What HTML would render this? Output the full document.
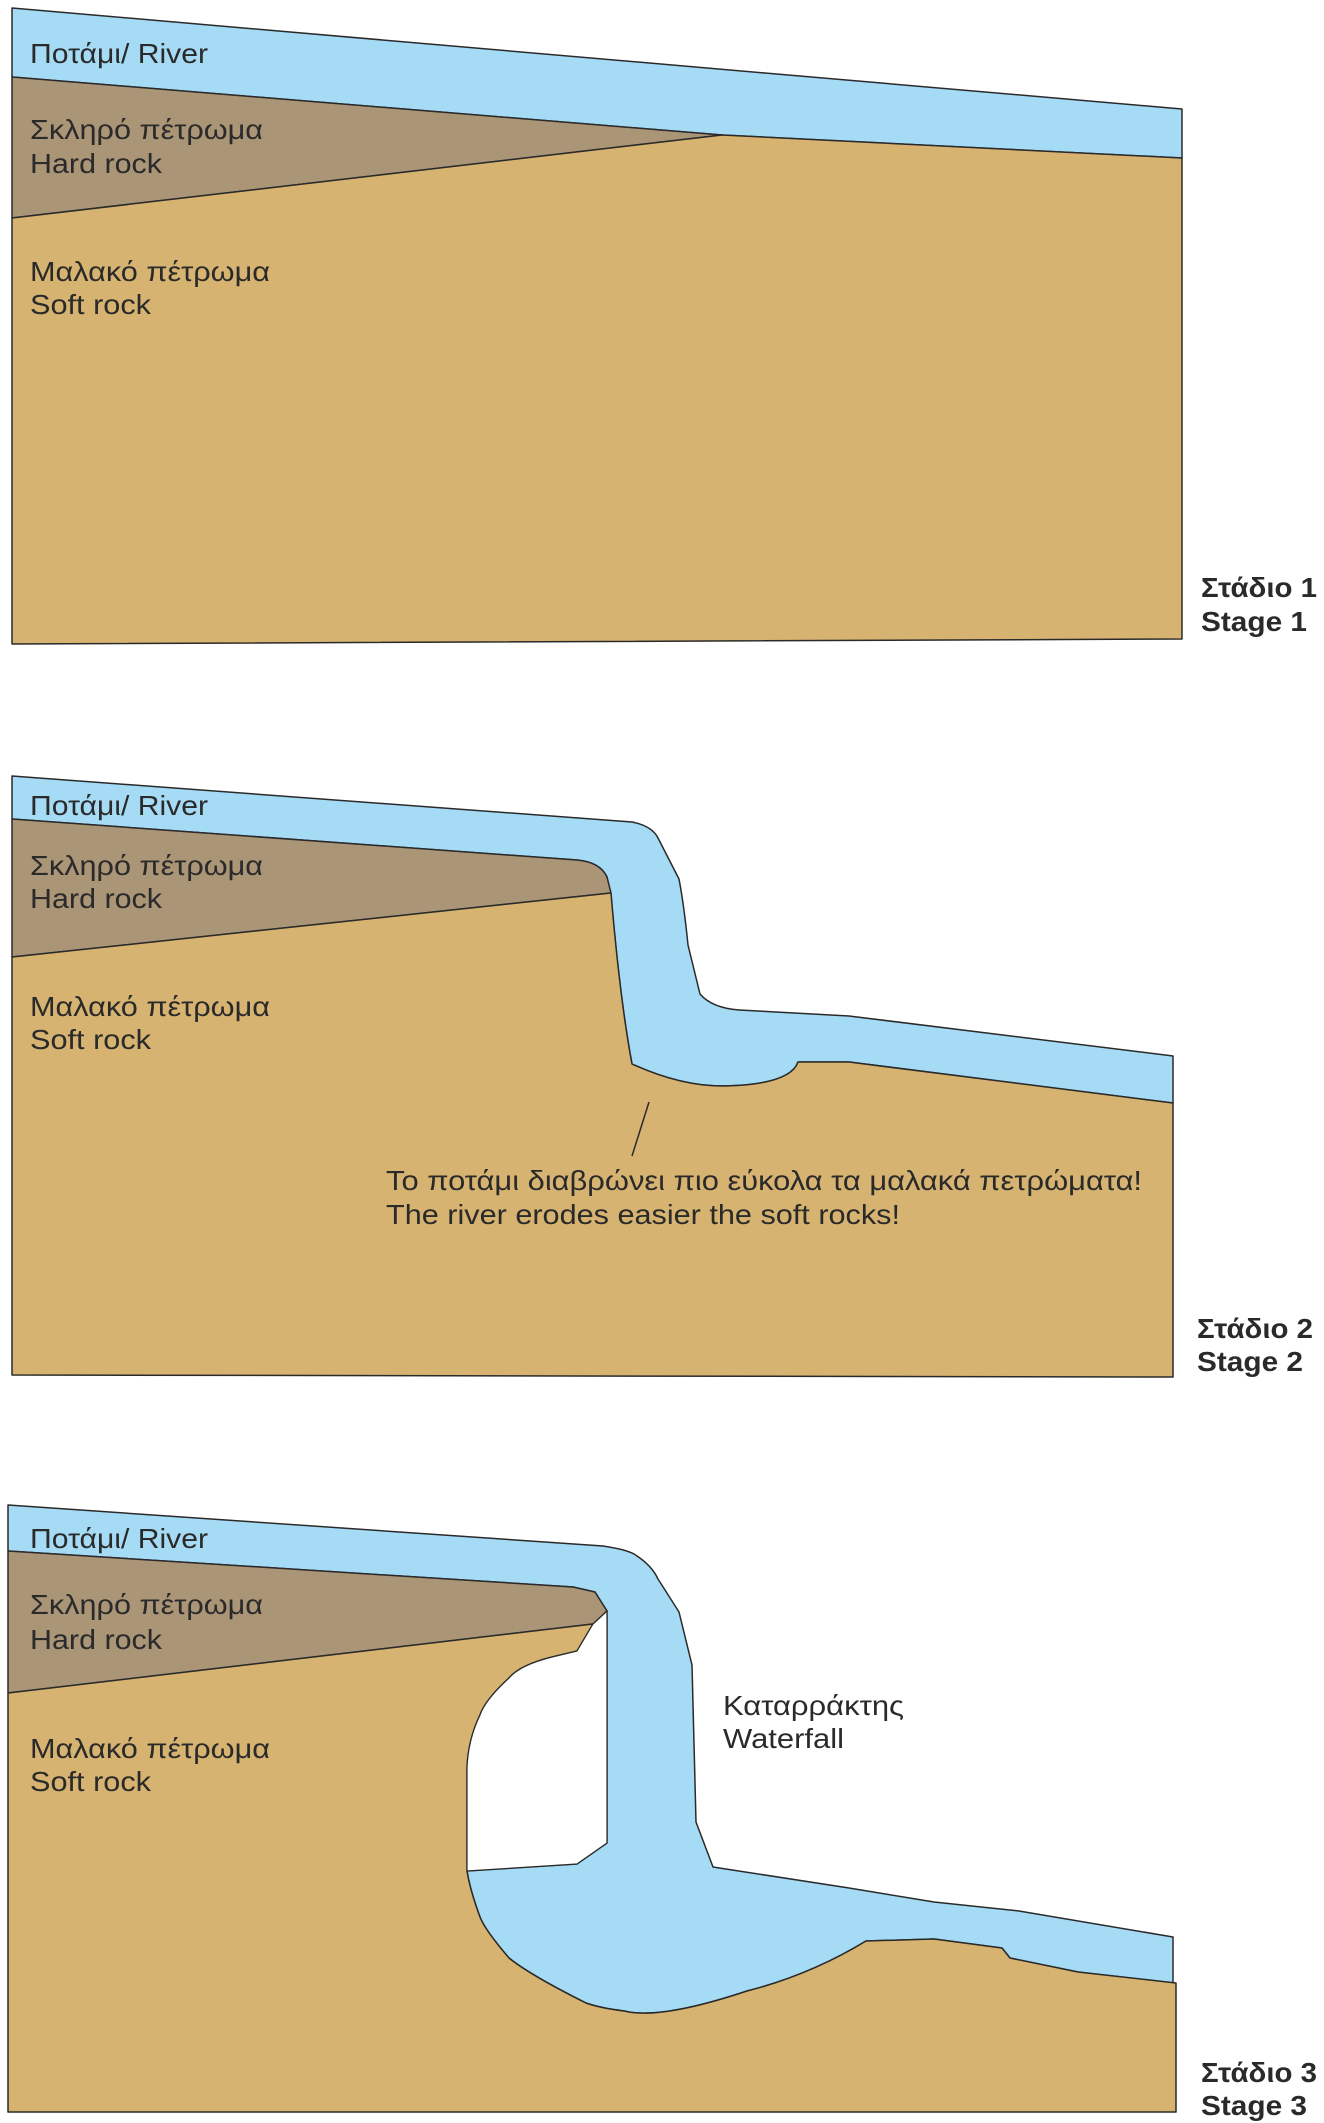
<!DOCTYPE html>
<html><head><meta charset="utf-8"><style>html,body{margin:0;padding:0;background:#fff}svg{display:block}</style></head>
<body>
<svg width="1324" height="2123" viewBox="0 0 1324 2123" xmlns="http://www.w3.org/2000/svg" font-family="'Liberation Sans', 'DejaVu Sans', sans-serif">
<g stroke="#2a2a2a" stroke-width="1.5" stroke-linejoin="round">
<!-- Stage 1 -->
<polygon points="12,8 1182,109 1182,158 722,135 12,77" fill="#a6dbf5"/>
<polygon points="12,77 722,135 12,218" fill="#ab9577"/>
<polygon points="12,218 722,135 1182,158 1182,639 12,644" fill="#d6b370"/>

<!-- Stage 2 -->
<path d="M12,776 L632,822 Q652,826 658,838 L679,879 Q684,905 688,945 L700,994 Q712,1008 739,1010 L849,1016 L1173,1056 L1173,1103 L849,1062 L798,1062 Q790,1085 722,1086 Q680,1086 632,1064 Q620,1000 611,895 L607,877 Q600,862 577,860 L12,819 Z" fill="#a6dbf5"/>
<path d="M12,819 L577,860 Q600,862 607,877 L611,893 L12,957 Z" fill="#ab9577"/>
<path d="M12,957 L611,893 Q620,1000 632,1064 Q680,1086 722,1086 Q790,1085 798,1062 L849,1062 L1173,1103 L1173,1377 L12,1375 Z" fill="#d6b370"/>
<line x1="649" y1="1102" x2="632" y2="1156"/>

<!-- Stage 3 -->
<path d="M8,1505 L603,1546 Q630,1550 637,1556 Q652,1566 658,1579 L679,1612 L692,1665 L696,1822 L713,1867 L849,1888 L934,1902 L1019,1911 L1173,1937 L1173,1983 L1078,1972 L1010,1958 L1002,1948 L934,1939 L866,1941 Q810,1975 747,1991 Q660,2020 624,2011 Q600,2008 586,2003 Q530,1975 509,1958 Q485,1930 480,1917 Q470,1890 467,1871 L577,1864 L607,1843 L607,1611 L595,1592 L573,1587 L8,1551 Z" fill="#a6dbf5"/>
<path d="M8,1551 L573,1587 L595,1592 L607,1611 L593,1624 L8,1693 Z" fill="#ab9577"/>
<path d="M8,1693 L593,1624 L577,1651 L552,1657 Q520,1665 509,1678 Q485,1700 480,1715 Q468,1740 467,1768 L467,1871 Q470,1890 480,1917 Q485,1930 509,1958 Q530,1975 586,2003 Q600,2008 624,2011 Q660,2020 747,1991 Q810,1975 866,1941 L934,1939 L1002,1948 L1010,1958 L1078,1972 L1176,1983 L1176,2112 L8,2112 Z" fill="#d6b370"/>
<path d="M593,1624 L607,1611 L607,1843 L577,1864 L467,1871 L467,1768 Q468,1740 480,1715 Q485,1700 509,1678 Q520,1665 552,1657 L577,1651 Z" fill="#ffffff" stroke-width="1.2"/>
</g>

<g fill="#2a2a2a" font-size="28">
<!-- Stage 1 labels -->
<text x="30" y="63" textLength="178" lengthAdjust="spacingAndGlyphs">Ποτάμι/ River</text>
<text x="30" y="139" textLength="233" lengthAdjust="spacingAndGlyphs">Σκληρό πέτρωμα</text>
<text x="30" y="173" textLength="132" lengthAdjust="spacingAndGlyphs">Hard rock</text>
<text x="30" y="281" textLength="240" lengthAdjust="spacingAndGlyphs">Μαλακό πέτρωμα</text>
<text x="30" y="314" textLength="121" lengthAdjust="spacingAndGlyphs">Soft rock</text>
<text x="1201" y="597" font-weight="bold" textLength="116" lengthAdjust="spacingAndGlyphs">Στάδιο 1</text>
<text x="1201" y="631" font-weight="bold" textLength="106" lengthAdjust="spacingAndGlyphs">Stage 1</text>

<!-- Stage 2 labels -->
<text x="30" y="815" textLength="178" lengthAdjust="spacingAndGlyphs">Ποτάμι/ River</text>
<text x="30" y="875" textLength="233" lengthAdjust="spacingAndGlyphs">Σκληρό πέτρωμα</text>
<text x="30" y="908" textLength="132" lengthAdjust="spacingAndGlyphs">Hard rock</text>
<text x="30" y="1016" textLength="240" lengthAdjust="spacingAndGlyphs">Μαλακό πέτρωμα</text>
<text x="30" y="1049" textLength="121" lengthAdjust="spacingAndGlyphs">Soft rock</text>
<text x="386" y="1190" textLength="756" lengthAdjust="spacingAndGlyphs">Το ποτάμι διαβρώνει πιο εύκολα τα μαλακά πετρώματα!</text>
<text x="386" y="1224" textLength="514" lengthAdjust="spacingAndGlyphs">The river erodes easier the soft rocks!</text>
<text x="1197" y="1338" font-weight="bold" textLength="116" lengthAdjust="spacingAndGlyphs">Στάδιο 2</text>
<text x="1197" y="1371" font-weight="bold" textLength="106" lengthAdjust="spacingAndGlyphs">Stage 2</text>

<!-- Stage 3 labels -->
<text x="30" y="1548" textLength="178" lengthAdjust="spacingAndGlyphs">Ποτάμι/ River</text>
<text x="30" y="1614" textLength="233" lengthAdjust="spacingAndGlyphs">Σκληρό πέτρωμα</text>
<text x="30" y="1649" textLength="132" lengthAdjust="spacingAndGlyphs">Hard rock</text>
<text x="30" y="1758" textLength="240" lengthAdjust="spacingAndGlyphs">Μαλακό πέτρωμα</text>
<text x="30" y="1791" textLength="121" lengthAdjust="spacingAndGlyphs">Soft rock</text>
<text x="723" y="1715" textLength="181" lengthAdjust="spacingAndGlyphs">Καταρράκτης</text>
<text x="723" y="1748" textLength="121" lengthAdjust="spacingAndGlyphs">Waterfall</text>
<text x="1201" y="2082" font-weight="bold" textLength="116" lengthAdjust="spacingAndGlyphs">Στάδιο 3</text>
<text x="1201" y="2115" font-weight="bold" textLength="106" lengthAdjust="spacingAndGlyphs">Stage 3</text>
</g>
</svg>
</body></html>
